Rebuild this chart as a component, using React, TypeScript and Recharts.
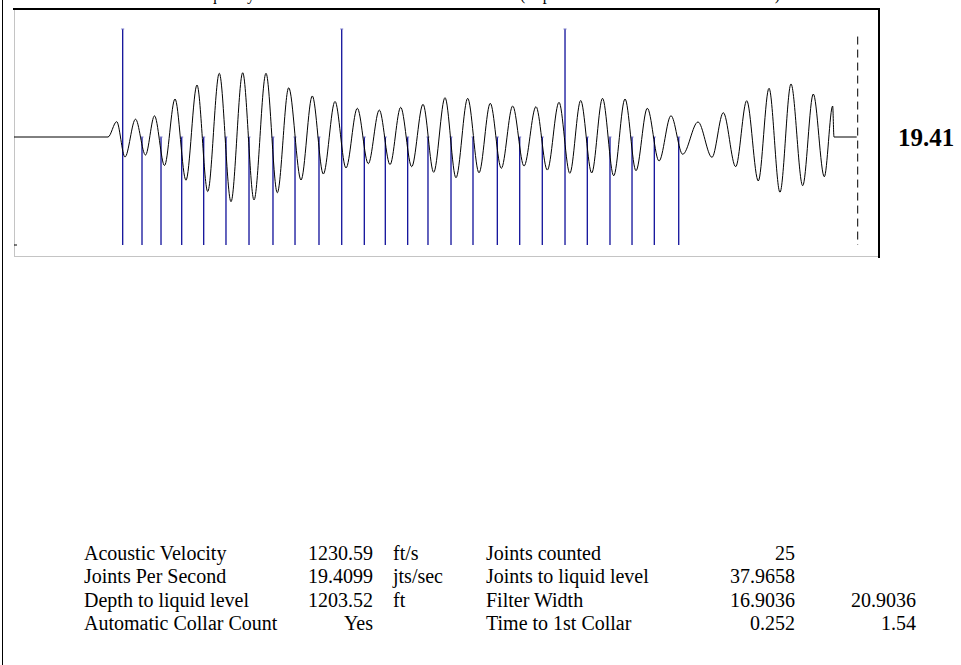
import React from "react";
import { LineChart, Line, XAxis, YAxis, ReferenceLine } from "recharts";

const signalTime = [
	0, 0.2176, 0.2377, 0.2569, 0.2813, 0.3044, 0.3252, 0.3484, 0.3727, 0.3981,
	0.4236, 0.4484, 0.4752, 0.5023, 0.5294, 0.5556, 0.5833, 0.6095, 0.6359, 0.6644,
	0.6905, 0.716, 0.7431, 0.7685, 0.7947, 0.8201, 0.8456, 0.8704, 0.8951, 0.9206,
	0.9468, 0.9715, 0.9977, 1.0231, 1.0502, 1.0764, 1.1025, 1.128, 1.1544, 1.1806,
	1.2083, 1.2345, 1.2616, 1.2866, 1.3118, 1.3373, 1.3623, 1.3882, 1.4144, 1.4398,
	1.466, 1.4931, 1.5208, 1.5479, 1.5833, 1.6157, 1.6419, 1.6706, 1.6961, 1.7229,
	1.7477, 1.7731, 1.7986, 1.8257, 1.8502, 1.8757, 1.8951, 1.8981, 1.9507,
];
const signalAmp = [
	0, 0, 0.142, -0.185, 0.165, -0.167, 0.196, -0.264, 0.352, -0.4,
	0.481, -0.505, 0.59, -0.599, 0.595, -0.583, 0.59, -0.516, 0.456, -0.398,
	0.38, -0.343, 0.329, -0.287, 0.266, -0.247, 0.25, -0.256, 0.275, -0.275,
	0.303, -0.327, 0.364, -0.377, 0.358, -0.331, 0.312, -0.29, 0.287, -0.269,
	0.281, -0.306, 0.321, -0.336, 0.338, -0.333, 0.358, -0.359, 0.352, -0.312,
	0.266, -0.222, 0.197, -0.16, 0.139, -0.188, 0.225, -0.275, 0.336, -0.407,
	0.451, -0.512, 0.491, -0.451, 0.398, -0.368, 0.287, 0, 0,
];

// detected collars (s); every tenth one is drawn full height
const collarTimes = [
	0.2516, 0.2963, 0.3403, 0.3882, 0.4391, 0.4907, 0.544, 0.5995, 0.6505, 0.706,
	0.7586, 0.8109, 0.8595, 0.9113, 0.9583, 1.0116, 1.0625, 1.1188, 1.1706, 1.2229,
	1.2755, 1.3271, 1.3796, 1.4306, 1.4822, 1.5387,
];
const collarTops = [
	1, 0, 0, 0, 0, 0, 0, 0, 0, 0, 1, 0, 0, 0, 0, 0, 0, 0, 0, 0, 1, 0, 0, 0, 0, 0,
];
const liquidLevelTime = 1.953;
const jointsPerSecondLabel = "19.41";

const titleLeft = "Collar Frequency";
const titleRight = "(Depth from collar count and acoustic data)";

const rowLabels = [
	"Acoustic Velocity",
	"Joints Per Second",
	"Depth to liquid level",
	"Automatic Collar Count",
];
const rowValues = ["1230.59", "19.4099", "1203.52", "Yes"];
const rowUnits = ["ft/s", "jts/sec", "ft", ""];
const rowLabels2 = [
	"Joints counted",
	"Joints to liquid level",
	"Filter Width",
	"Time to 1st Collar",
];
const rowValues2 = ["25", "37.9658", "16.9036", "0.252"];
const rowValues3 = ["", "", "20.9036", "1.54"];

const serif = '"Liberation Serif", "Times New Roman", serif';
const blue = "#10109a";
const capHalf = 0.0035; // half width of the little cap on each collar marker, in s

export default function App() {
	const data = signalTime.map((t, i) => ({ t, amp: signalAmp[i] }));

	return (
		<div
			style={{
				position: "absolute",
				left: 0,
				top: 0,
				width: 961,
				height: 665,
				background: "#fff",
				overflow: "hidden",
				fontFamily: serif,
			}}
		>
			{/* page edge */}
			<div style={{ position: "absolute", left: 2, top: 0, width: 1, height: 665, background: "#000" }} />
			{/* sunken frame */}
			<div style={{ position: "absolute", left: 13, top: 8, width: 867, height: 2, background: "#000" }} />
			<div style={{ position: "absolute", left: 878, top: 8, width: 2, height: 250, background: "#000" }} />
			<div style={{ position: "absolute", left: 14, top: 10, width: 1, height: 247, background: "#c4c4c4" }} />
			<div style={{ position: "absolute", left: 14, top: 256, width: 864, height: 1, background: "#c4c4c4" }} />

			<div style={{ position: "absolute", left: 14, top: 9 }}>
				<LineChart
					width={864}
					height={248}
					data={data}
					margin={{ top: 0, right: 0, bottom: 0, left: 0 }}
				>
					<XAxis dataKey="t" type="number" domain={[0, 2]} hide allowDataOverflow />
					<YAxis type="number" domain={[-1.1111, 1.1852]} hide allowDataOverflow />
					{collarTimes.map((t, i) => (
						<ReferenceLine
							key={`c-${i}`}
							segment={[
								{ x: t, y: collarTops[i] },
								{ x: t, y: -1 },
							]}
							stroke={blue}
							strokeWidth={1.3}
							ifOverflow="visible"
						/>
					))}
					{collarTimes.map((t, i) => (
						<ReferenceLine
							key={`cap-${i}`}
							segment={[
								{ x: t - capHalf, y: collarTops[i] },
								{ x: t + capHalf, y: collarTops[i] },
							]}
							stroke="#7a7ac8"
							strokeWidth={1}
							ifOverflow="visible"
						/>
					))}
					<ReferenceLine
						segment={[
							{ x: liquidLevelTime, y: 0.93 },
							{ x: liquidLevelTime, y: -1 },
						]}
						stroke="#000"
						strokeDasharray="8 5"
						ifOverflow="visible"
					/>
					<ReferenceLine
						segment={[
							{ x: 0, y: -1 },
							{ x: 0.007, y: -1 },
						]}
						stroke="#000"
						ifOverflow="visible"
					/>
					<Line
						type="monotone"
						dataKey="amp"
						stroke="#000"
						strokeWidth={1}
						dot={false}
						isAnimationActive={false}
					/>
				</LineChart>
			</div>

			<svg
				width={961}
				height={665}
				style={{ position: "absolute", left: 0, top: 0, pointerEvents: "none" }}
				fontFamily={serif}
			>
				{/* the title sits above the page, only its descenders show, as in the reference */}
				<text x={255} y={-0.5} fontSize={16} textAnchor="end">
					{titleLeft}
				</text>
				<text x={520} y={-0.5} fontSize={16} textLength={260} lengthAdjust="spacing">
					{titleRight}
				</text>
				<text x={898} y={145.5} fontSize={25} fontWeight="bold">
					{jointsPerSecondLabel}
				</text>
				{rowLabels.map((label, i) => {
					const y = 560 + i * 23.3;
					return (
						<g key={label} fontSize={20}>
							<text x={84} y={y}>{label}</text>
							<text x={373} y={y} textAnchor="end">{rowValues[i]}</text>
							<text x={393} y={y}>{rowUnits[i]}</text>
							<text x={486} y={y}>{rowLabels2[i]}</text>
							<text x={795} y={y} textAnchor="end">{rowValues2[i]}</text>
							<text x={916} y={y} textAnchor="end">{rowValues3[i]}</text>
						</g>
					);
				})}
			</svg>
		</div>
	);
}
